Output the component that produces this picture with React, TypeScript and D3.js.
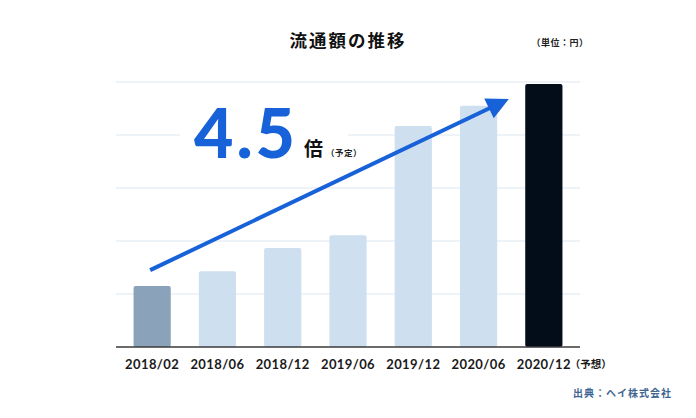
import React from "react";
import * as d3 from "d3";

const categories = ["2018/02", "2018/06", "2018/12", "2019/06", "2019/12", "2020/06", "2020/12"];
const values = [1.15, 1.43, 1.87, 2.11, 4.17, 4.55, 4.96];
const barColors = ["#8ba3ba", "#cedff0", "#cedff0", "#cedff0", "#cedff0", "#cedff0", "#020d19"];
const gridTicks = [1, 2, 3, 4, 5];
const title = "流通額の推移";
const unitLabel = "（単位：円）";
const sourceLabel = "出典：ヘイ株式会社";
const multiple = "4.5";
const arrowFrom = 1.45;
const arrowTo = 4.68;

const W = 696;
const H = 418;
const left = 116;
const right = 580;
const top = 82;
const bottom = 347;

const NUM_FONT = "Lato, 'Noto Sans CJK JP', sans-serif";
const JP_FONT = "'Noto Sans CJK JP', sans-serif";

export default function App() {
  const x = d3.scaleBand<string>().domain(categories).range([120.5, 575.5]).paddingInner(0.43).paddingOuter(0.2);
  const y = d3.scaleLinear().domain([0, 5]).range([bottom, top]);
  const bw = x.bandwidth();
  const cx = (c: string) => (x(c) as number) + bw / 2;
  const last = categories.length - 1;

  const x0 = cx(categories[0]) - 2;
  const y0 = y(arrowFrom);
  const x1 = cx(categories[last]) - 35;
  const y1 = y(arrowTo);
  const ang = Math.atan2(y1 - y0, x1 - x0);
  const headLen = 22;
  const headW = 11;
  const bx = x1 - headLen * Math.cos(ang);
  const by = y1 - headLen * Math.sin(ang);
  const px = -Math.sin(ang);
  const py = Math.cos(ang);
  const head = `M${x1},${y1}L${bx + px * headW},${by + py * headW}L${bx - px * headW},${by - py * headW}Z`;

  return (
    <svg width={W} height={H} style={{ position: "absolute", left: 0, top: 0, background: "#fff" }}>
      <rect x={0} y={0} width={W} height={H} fill="#fff" />
      <text x={348} y={47} textAnchor="middle" fontFamily={JP_FONT} fontWeight={700} fontSize={17.5} letterSpacing={2} fill="#111">
        {title}
      </text>
      <text x={560} y={46} textAnchor="middle" fontFamily={JP_FONT} fontWeight={700} fontSize={9} letterSpacing={0.5} fill="#222">
        {unitLabel}
      </text>
      {gridTicks.map((t) => (
        <line key={t} x1={left} x2={right} y1={y(t)} y2={y(t)} stroke="#dde8f2" strokeWidth={1.2} />
      ))}
      <rect x={180} y={122} width={168} height={28} fill="#fff" />
      {categories.map((c, i) => (
        <rect key={c} x={x(c)} y={y(values[i])} width={bw} height={bottom - y(values[i])} fill={barColors[i]} rx={2} />
      ))}
      <line x1={left} x2={right} y1={bottom} y2={bottom} stroke="#3a3a3a" strokeWidth={1.5} />
      <line x1={x0} y1={y0} x2={bx + 4 * Math.cos(ang)} y2={by + 4 * Math.sin(ang)} stroke="#1762d8" strokeWidth={4} />
      <path d={head} fill="#1762d8" />
      <text x={194} y={158} fontFamily={NUM_FONT} fontWeight={900} fontSize={68} letterSpacing={3} fill="#1762d8">
        {multiple}
      </text>
      <text x={304} y={156} fontFamily={JP_FONT} fontWeight={700} fontSize={19} fill="#111">
        倍
      </text>
      <text x={326} y={156} fontFamily={JP_FONT} fontWeight={700} fontSize={8.5} letterSpacing={0.5} fill="#222">
        （予定）
      </text>
      {categories.map((c) => (
        <text key={c} x={cx(c)} y={369} textAnchor="middle" fontFamily={NUM_FONT} fontWeight={700} fontSize={13} letterSpacing={0.4} fill="#1a1a1a">
          {c}
        </text>
      ))}
      <text x={cx(categories[last]) + 26} y={368} fontFamily={JP_FONT} fontWeight={700} fontSize={10.5} fill="#1a1a1a">
        （予想）
      </text>
      <text x={672} y={397} textAnchor="end" fontFamily={JP_FONT} fontWeight={700} fontSize={10} letterSpacing={1} fill="#3f6691">
        {sourceLabel}
      </text>
    </svg>
  );
}
